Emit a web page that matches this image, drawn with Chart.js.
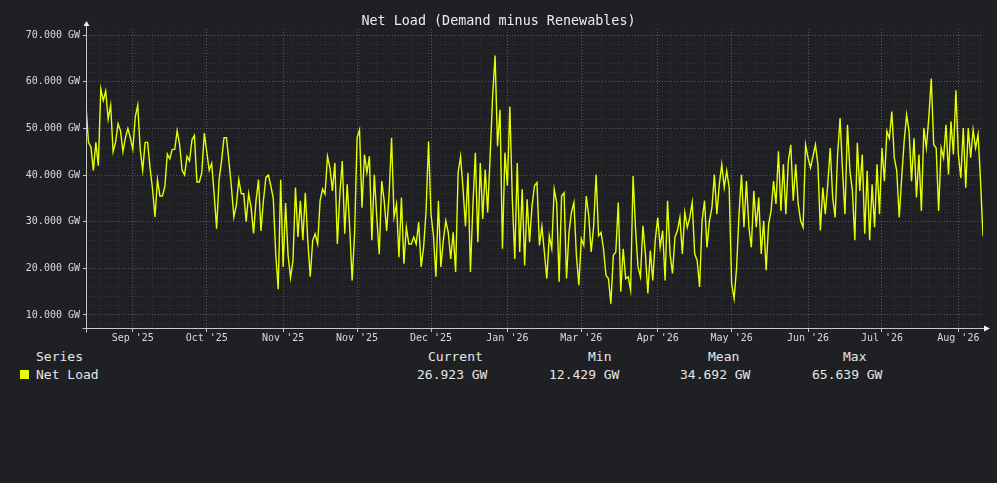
<!DOCTYPE html>
<html>
<head>
<meta charset="utf-8">
<script src="https://cdn.jsdelivr.net/npm/chart.js@4/dist/chart.umd.min.js"></script>
<style>
  html, body { margin: 0; padding: 0; background: #1f2023; }
  body { width: 997px; height: 483px; overflow: hidden; position: relative;
         font-family: "DejaVu Sans Mono", "Liberation Mono", monospace; color: #e6e6e6; }
  #wrap { position: absolute; left: 0; top: 0; width: 997px; height: 345px; }
  .lg { position: absolute; font-size: 13px; line-height: 16px; white-space: pre; }
  .sw { position: absolute; width: 9px; height: 9px; }
</style>
</head>
<body>
<div id="wrap"><canvas id="netChart"></canvas></div>
<div id="legend"></div>
<script>
// daily net load, GW
const netLoad = [
  55, 47, 46, 41, 47, 42, 58.5, 56, 58, 52, 55, 45, 47, 51, 49.5, 45, 48, 50, 48, 45.5,
  52.5, 55, 45.5, 41, 47, 47, 41.5, 37, 31, 39, 35.5, 35.5, 37.5, 44.5, 43.5, 45.5, 45.5, 49.5, 46.5, 41,
  40, 44, 43, 47.5, 48.5, 38.5, 38.5, 40.5, 49, 45, 41, 42.5, 36, 28.5, 39, 43, 48, 48, 43, 37.5,
  31, 33.5, 39, 36, 36, 30, 36, 33, 27.5, 34.5, 39, 28, 34.5, 39.5,
  40, 37.7, 35, 23, 15.5, 39, 20.3, 34, 22.8, 18, 21.7, 37.3, 26.7, 34.5, 26, 36.2, 26, 18.2, 26, 27.4,
  25.2, 34.5, 37, 35.9, 44, 41.5, 36.6, 42.6, 25.2, 35.9, 43, 27.4, 38, 28.8, 17.4, 27.4, 48, 49.7, 33, 44.4,
  40.5, 44, 26, 40.1, 31, 23, 38.7, 34.5, 28, 35.9, 48, 31, 33.8, 22.4, 35.2, 21, 28.8, 25.2, 25.2, 26.7,
  25.2, 29.9, 20.3, 24.5, 32.3, 47.2, 31.6, 27, 18.2, 34.5, 20.3, 26, 30.2,
  27.7, 22, 27.7, 19.2, 40.5, 44, 37, 29, 40.5, 19.2, 33.4, 44.8, 25.6, 42.6, 30.6, 41.2, 32, 44, 56.8, 65.639,
  46.2, 54, 24.2, 44.8, 37.7, 54.7, 34.8, 22, 42.6, 23.5, 37, 20.6, 34.8, 25.6, 33.4, 37.7, 38.4, 24.9, 29, 23.5,
  17.8, 27, 24.2, 37, 34.1, 17.1, 35.5, 36.2, 17.8, 27.7, 32, 34.1, 22.8, 16.4, 26.3, 24.9, 35.5, 31.3, 23.5, 29,
  40.1, 27, 27.7, 24.2, 18.5, 17.8, 12.429, 22.8, 23.5, 34.1, 15, 24.2, 17.8,
  18.2, 15.3, 39.8, 28.5, 20.3, 18.2, 29.1, 23.1, 14.6, 23.8, 17.4, 26, 30.9, 24.5, 28.1, 17.4, 34.5, 23.1, 18.9, 26.7,
  28.1, 30.9, 23.1, 32, 28.8, 30.9, 34.1, 23.1, 21.7, 16, 30.2, 34.5, 24.5, 30.2, 33, 40.1, 31.6, 38, 42.3, 37.3,
  40.9, 37.3, 16.7, 13.5, 20, 31.6, 40.1, 28.8, 38.7, 28.8, 24.5, 36.6, 28.8, 35.2, 23.1, 30.2, 19.6, 29.5, 32.3, 38.7,
  33.8, 45.1, 32.3, 42.3, 31.6, 43, 46.5, 34.5, 42.3, 33.8, 30.2, 28.8, 46.5,
  43.7, 41.6, 44, 46.5, 42.3, 28.1, 37.3, 31.6, 38, 45.8, 35.2, 30.9, 44.4, 52.2, 40.9, 31.6, 50.8, 40.9, 36.6, 26,
  46.9, 36.6, 44.4, 27.4, 40.9, 26, 38, 28.8, 42.3, 31.6, 45.8, 38.7, 49.4, 47.9, 53.6, 43.7, 40.9, 30.9, 39.4, 47.2,
  52.9, 49.4, 38.7, 47.9, 35.2, 44.4, 32.3, 50.1, 45.8, 52.2, 60.7, 46.5, 45.8, 32.3, 45.8, 43.7, 50.8, 40.1, 51.5, 44.4,
  58.2, 44.4, 39.4, 50.1, 37.3, 50.1, 43.7, 49.7, 45.8, 48.7, 38.7, 26.923
];

// x axis: day index of each labelled tick, and its label
const monthDays = [19, 49, 80, 110, 140, 171, 201, 232, 262, 293, 323, 354];
const monthLabels = ["Sep '25", "Oct '25", "Nov '25", "Nov '25", "Dec '25", "Jan '26",
                     "Mar '26", "Apr '26", "May '26", "Jun '26", "Jul '26", "Aug '26"];
const yLabelled = [10, 20, 30, 40, 50, 60, 70];

const statNames = ['Current', 'Min', 'Mean', 'Max'];
const statValues = [26.923, 12.429, 34.692, 65.639];

const seriesColor = '#e6ff00';
const mono = '"DejaVu Sans Mono", "Liberation Mono", monospace';

// weekly minor grid, 2 GW minor grid
const weekDays = [];
for (let d = 6; d < netLoad.length; d += 7) weekDays.push(d);
const xTickVals = [...new Set([...weekDays, ...monthDays])].sort((a, b) => a - b);
const yTickVals = [];
for (let v = 8; v <= 70; v += 2) yTickVals.push(v);

const isMonth = v => monthDays.includes(v);
const isYMajor = v => yLabelled.includes(v);

const axisArrows = {
  id: 'axisArrows',
  afterDraw(chart) {
    const { ctx, chartArea: a } = chart;
    const x0 = Math.round(a.left) + 0.5, y0 = Math.round(a.bottom) + 0.5;
    ctx.save();
    ctx.strokeStyle = '#c8c8c8';
    ctx.fillStyle = '#f2f2f2';
    ctx.lineWidth = 1;
    ctx.beginPath();
    ctx.moveTo(x0, y0 + 4);
    ctx.lineTo(x0, a.top - 4);
    ctx.moveTo(x0 - 4, y0);
    ctx.lineTo(a.right + 2, y0);
    ctx.stroke();
    ctx.beginPath();
    ctx.moveTo(x0, a.top - 8);
    ctx.lineTo(x0 - 3, a.top - 3);
    ctx.lineTo(x0 + 3, a.top - 3);
    ctx.closePath();
    ctx.fill();
    ctx.beginPath();
    ctx.moveTo(a.right + 7, y0);
    ctx.lineTo(a.right + 1, y0 - 3);
    ctx.lineTo(a.right + 1, y0 + 3);
    ctx.closePath();
    ctx.fill();
    ctx.restore();
  }
};

const ctx = document.getElementById('netChart').getContext('2d');
new Chart(ctx, {
  type: 'line',
  data: {
    datasets: [{
      label: 'Net Load',
      data: netLoad.map((v, i) => ({ x: i, y: v })),
      borderColor: seriesColor,
      borderWidth: 1.4,
      pointRadius: 0,
      tension: 0,
      fill: false
    }]
  },
  options: {
    responsive: true,
    maintainAspectRatio: false,
    animation: false,
    layout: { padding: { left: 14, right: 14, top: 0, bottom: 0 } },
    plugins: {
      legend: { display: false },
      tooltip: { enabled: false },
      title: {
        display: true,
        text: 'Net Load (Demand minus Renewables)',
        color: '#ececec',
        font: { family: mono, size: 13.4, weight: 'normal' },
        padding: { top: 13, bottom: 0 }
      }
    },
    scales: {
      x: {
        type: 'linear',
        min: 0,
        max: netLoad.length - 1,
        afterBuildTicks: s => { s.ticks = xTickVals.map(v => ({ value: v })); },
        afterFit: s => { s.height = 17; },
        ticks: {
          autoSkip: false,
          maxRotation: 0,
          padding: 0,
          color: '#dadada',
          font: { family: mono, size: 10 },
          callback: v => isMonth(v) ? monthLabels[monthDays.indexOf(v)] : ''
        },
        grid: {
          color: c => (c.tick && isMonth(c.tick.value)) ? 'rgba(255,255,255,0.28)' : 'rgba(255,255,255,0.09)',
          tickColor: c => (c.tick && isMonth(c.tick.value)) ? '#c8c8c8' : 'rgba(0,0,0,0)',
          tickLength: 4,
          lineWidth: 1
        },
        border: { display: false, dash: [1, 2] }
      },
      y: {
        min: 7.2,
        max: 71.3,
        afterBuildTicks: s => { s.ticks = yTickVals.map(v => ({ value: v })); },
        afterFit: s => { s.width = 72; },
        ticks: {
          autoSkip: false,
          padding: 3,
          color: '#dadada',
          font: { family: mono, size: 10 },
          callback: v => isYMajor(v) ? v.toFixed(3) + ' GW' : ''
        },
        grid: {
          color: c => (c.tick && isYMajor(c.tick.value)) ? 'rgba(255,255,255,0.26)' : 'rgba(255,255,255,0.09)',
          tickColor: c => (c.tick && isYMajor(c.tick.value)) ? '#c8c8c8' : 'rgba(0,0,0,0)',
          tickLength: 3,
          lineWidth: 1
        },
        border: { display: false, dash: [1, 2] }
      }
    }
  },
  plugins: [axisArrows]
});

// legend table under the plot
const legend = document.getElementById('legend');
const headLeft = [428, 588, 708, 843];
const valLeft = [417, 549, 680, 812];
function addText(txt, left, top) {
  const d = document.createElement('div');
  d.className = 'lg';
  d.textContent = txt;
  d.style.left = left + 'px';
  d.style.top = top + 'px';
  legend.appendChild(d);
}
addText('Series', 36, 349);
addText('Net Load', 36, 367);
const sw = document.createElement('div');
sw.className = 'sw';
sw.style.left = '20px';
sw.style.top = '370px';
sw.style.background = seriesColor;
legend.appendChild(sw);
statNames.forEach((n, i) => {
  addText(n, headLeft[i], 349);
  addText(statValues[i].toFixed(3) + ' GW', valLeft[i], 367);
});
</script>
</body>
</html>
